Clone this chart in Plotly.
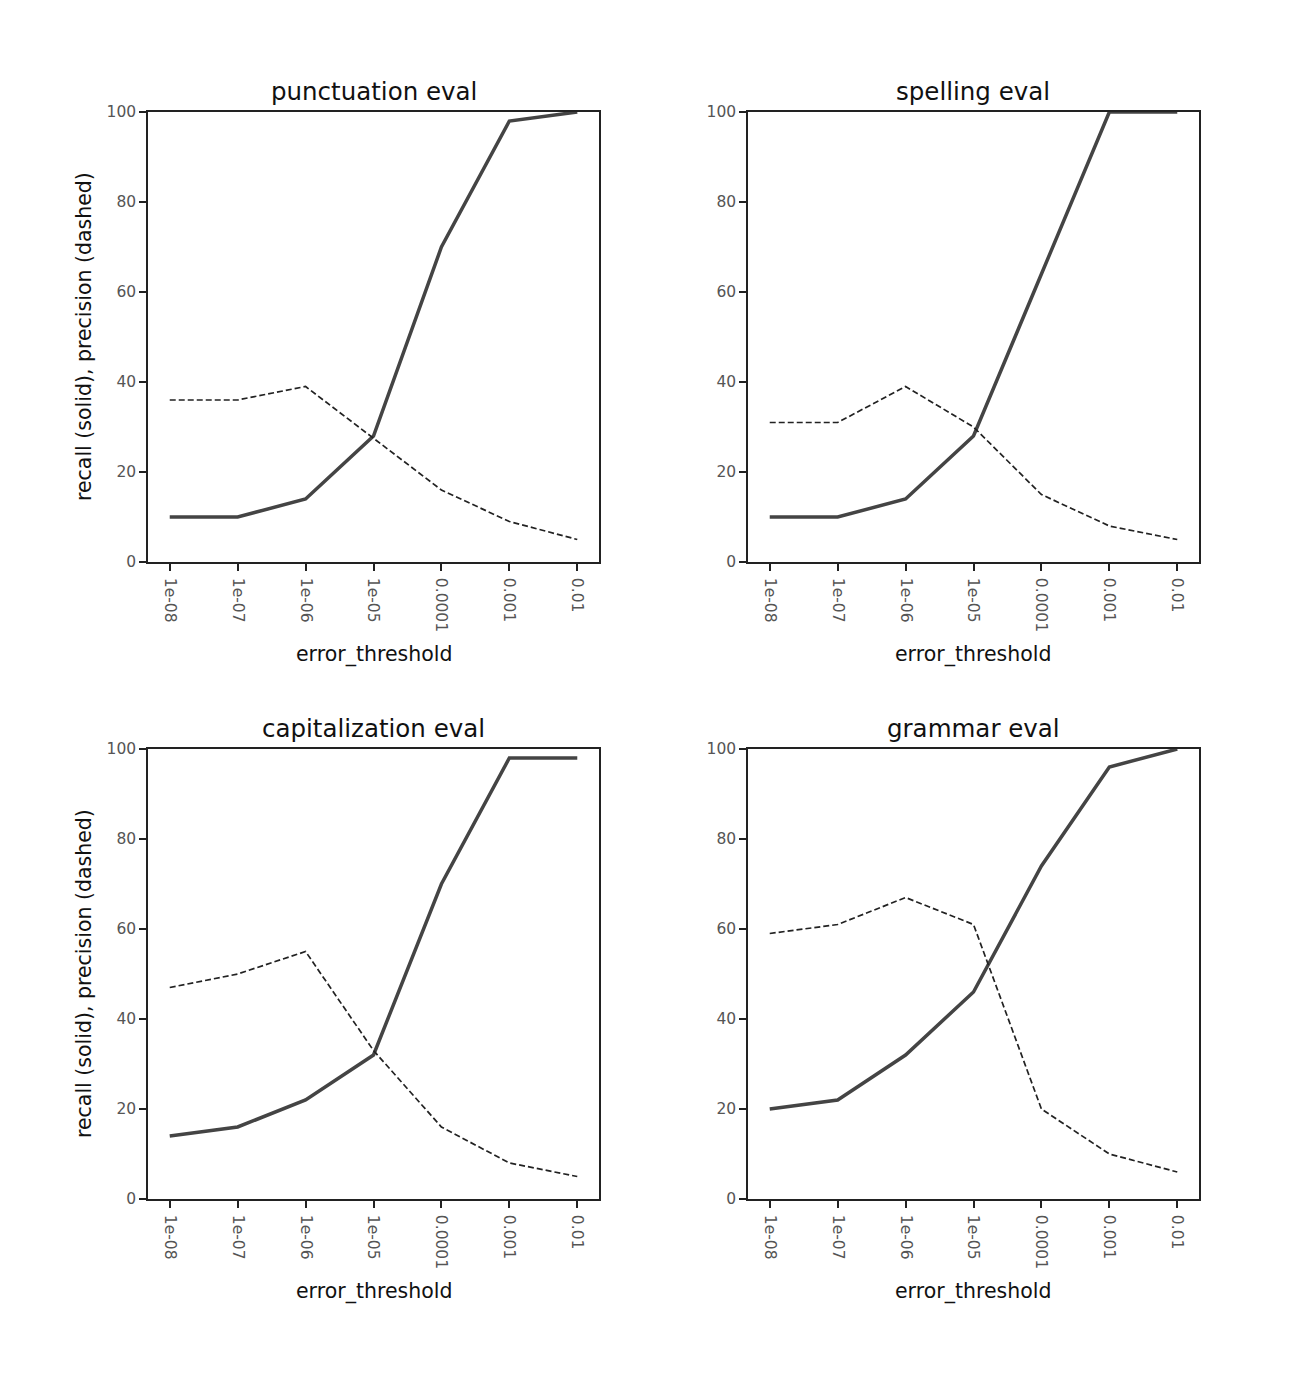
import plotly.graph_objects as go

thresholds = ["1e-08", "1e-07", "1e-06", "1e-05", "0.0001", "0.001", "0.01"]
panel_titles = ["punctuation eval", "spelling eval", "capitalization eval", "grammar eval"]

punct_recall = [10, 10, 14, 28, 70, 98, 100]
punct_precision = [36, 36, 39, 27.5, 16, 9, 5]
spell_recall = [10, 10, 14, 28, 64, 100, 100]
spell_precision = [31, 31, 39, 30, 15, 8, 5]
cap_recall = [14, 16, 22, 32, 70, 98, 98]
cap_precision = [47, 50, 55, 33, 16, 8, 5]
gram_recall = [20, 22, 32, 46, 74, 96, 100]
gram_precision = [59, 61, 67, 61, 20, 10, 6]

y_ticks = [0, 20, 40, 60, 80, 100]

panels = [
    (punct_recall, punct_precision),
    (spell_recall, spell_precision),
    (cap_recall, cap_precision),
    (gram_recall, gram_precision),
]

W, H = 1312, 1387
xdoms = [(148 / W, 599 / W), (748 / W, 1199 / W)]
ydoms = [(1 - 562 / H, 1 - 112 / H), (1 - 1199 / H, 1 - 749 / H)]

FONT = "DejaVu Sans"
fig = go.Figure()
annotations = []
xs = list(range(len(thresholds)))

for i, (rec, prec) in enumerate(panels):
    r, c = divmod(i, 2)
    n = "" if i == 0 else str(i + 1)
    xa, ya = "x" + n, "y" + n
    fig.add_trace(go.Scatter(x=xs, y=rec, mode="lines", xaxis=xa, yaxis=ya,
                             line=dict(color="#444444", width=3.5), showlegend=False))
    fig.add_trace(go.Scatter(x=xs, y=prec, mode="lines", xaxis=xa, yaxis=ya,
                             line=dict(color="#222222", width=1.7, dash="6px,3px"), showlegend=False))
    axcommon = dict(showline=True, mirror=True, linecolor="#222222", linewidth=1.5,
                    ticks="outside", ticklen=7, tickwidth=1.5, tickcolor="#222222",
                    showgrid=False, zeroline=False, automargin=False,
                    tickfont=dict(family=FONT, size=15.5, color="#555555"))
    fig.layout["xaxis" + n] = dict(domain=xdoms[c], anchor=ya, range=[-0.32, 6.32],
                                   tickvals=xs, ticktext=thresholds, tickangle=90,
                                   ticklabelstandoff=4, **axcommon)
    fig.layout["yaxis" + n] = dict(domain=ydoms[r], anchor=xa, range=[0, 100],
                                   tickvals=y_ticks, **axcommon)
    xmid = (xdoms[c][0] + xdoms[c][1]) / 2
    annotations.append(dict(text=panel_titles[i], x=xmid, y=ydoms[r][1], xref="paper", yref="paper",
                            xanchor="center", yanchor="middle", yshift=21, showarrow=False,
                            font=dict(family=FONT, size=24.5, color="#111111")))
    annotations.append(dict(text="error_threshold", x=xmid, y=ydoms[r][0], xref="paper", yref="paper",
                            xanchor="center", yanchor="middle", yshift=-92, showarrow=False,
                            font=dict(family=FONT, size=20.5, color="#111111")))
    if c == 0:
        annotations.append(dict(text="recall (solid), precision (dashed)", x=84 / W,
                                y=(ydoms[r][0] + ydoms[r][1]) / 2, xref="paper", yref="paper",
                                xanchor="center", yanchor="middle", textangle=-90, showarrow=False,
                                font=dict(family=FONT, size=20.5, color="#111111")))

fig.update_layout(width=W, height=H, margin=dict(l=0, r=0, t=0, b=0),
                  plot_bgcolor="white", paper_bgcolor="white", annotations=annotations)
fig.write_html("out.html")
